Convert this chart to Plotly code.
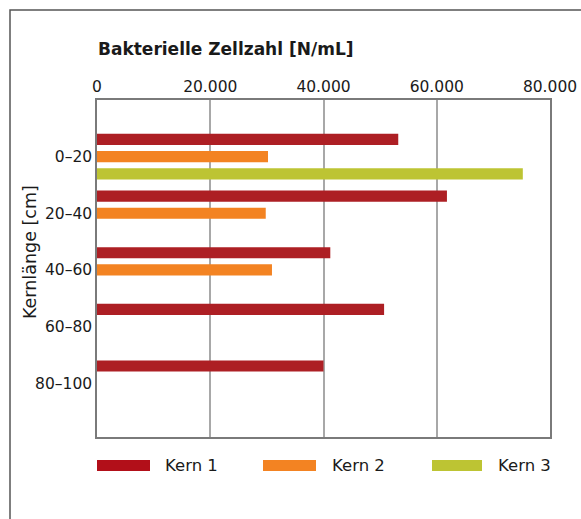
import plotly.graph_objects as go

# ---- data ----
categories = ["0–20", "20–40", "40–60", "60–80", "80–100"]
series_names = ["Kern 1", "Kern 2", "Kern 3"]
kern1 = [53200, 61800, 41200, 50700, 40000]
kern2 = [30200, 29800, 30900, None, None]
kern3 = [75200, None, None, None, None]
x_ticks = [0, 20000, 40000, 60000, 80000]
x_tick_labels = ["0", "20.000", "40.000", "60.000", "80.000"]

bar_colors = ["#AD1F24", "#F38322", "#BDC433"]
legend_colors = ["#B20F19", "#F38322", "#BDC433"]

FONT = "DejaVu Sans"
W, H = 581, 519
L, R, T, B = 97, 31, 100, 82
PW, PH = W - L - R, H - T - B


def px_x(p):
    return (p - L) / PW


def px_y(p):
    return (H - B - p) / PH


fig = go.Figure()
for name, vals, col in zip(series_names, [kern1, kern2, kern3], bar_colors):
    fig.add_trace(go.Bar(
        y=categories, x=vals, name=name, orientation="h",
        marker=dict(color=col, line=dict(width=0)),
        showlegend=False,
    ))

shapes = []
annotations = []

# outer frame (open to the right/bottom as in the reference)
shapes.append(dict(type="rect", xref="paper", yref="paper",
                   x0=px_x(10), x1=px_x(W + 20), y0=px_y(H + 20), y1=px_y(10),
                   line=dict(color="#555555", width=1.5), layer="below"))

# title
annotations.append(dict(text="<b>Bakterielle Zellzahl [N/mL]</b>", xref="paper", yref="paper",
                        x=px_x(96), y=px_y(49), xanchor="left", yanchor="middle",
                        showarrow=False, font=dict(family=FONT, size=17, color="#1a1a1a")))
# y-axis title
annotations.append(dict(text="Kernlänge [cm]", xref="paper", yref="paper",
                        x=px_x(30), y=px_y(252), xanchor="center", yanchor="middle",
                        textangle=-90, showarrow=False,
                        font=dict(family=FONT, size=17.5, color="#1a1a1a")))

# custom legend
legend_swatch_x = [(97, 150), (263, 316), (432, 482)]
legend_text_x = [163, 330, 496]
for name, col, (sx0, sx1), tx in zip(series_names, legend_colors, legend_swatch_x, legend_text_x):
    shapes.append(dict(type="rect", xref="paper", yref="paper",
                       x0=px_x(sx0), x1=px_x(sx1), y0=px_y(471), y1=px_y(460),
                       fillcolor=col, line=dict(width=0)))
    annotations.append(dict(text=name, xref="paper", yref="paper",
                            x=px_x(tx), y=px_y(465.5), xanchor="left", yanchor="middle",
                            showarrow=False, font=dict(family=FONT, size=16.5, color="#1a1a1a")))

fig.update_layout(
    width=W, height=H,
    margin=dict(l=L, r=R, t=T, b=B, pad=0, autoexpand=False),
    paper_bgcolor="white", plot_bgcolor="white",
    barmode="group", bargap=0.09, bargroupgap=0.35,
    font=dict(family=FONT, size=15.5, color="#1a1a1a"),
    shapes=shapes, annotations=annotations,
    xaxis=dict(
        side="top", range=[0, 80000], tickvals=x_ticks, ticktext=x_tick_labels,
        showgrid=True, gridcolor="#A8A8A8", gridwidth=1.5, zeroline=False,
        showline=True, linecolor="#7A7A7A", linewidth=1.5, mirror=True,
        ticks="", tickfont=dict(family=FONT, size=15.5, color="#1a1a1a"),
        fixedrange=True, automargin=False,
    ),
    yaxis=dict(
        type="category", categoryarray=categories, range=[4.95, -1.0],
        showgrid=False, zeroline=False,
        showline=True, linecolor="#7A7A7A", linewidth=1.5, mirror=True,
        ticks="", tickfont=dict(family=FONT, size=15.5, color="#1a1a1a"),
        fixedrange=True, automargin=False,
    ),
)

fig.write_html("out.html", config={"displayModeBar": False},
               post_script="document.body.style.margin='0';document.body.style.overflow='hidden';")
